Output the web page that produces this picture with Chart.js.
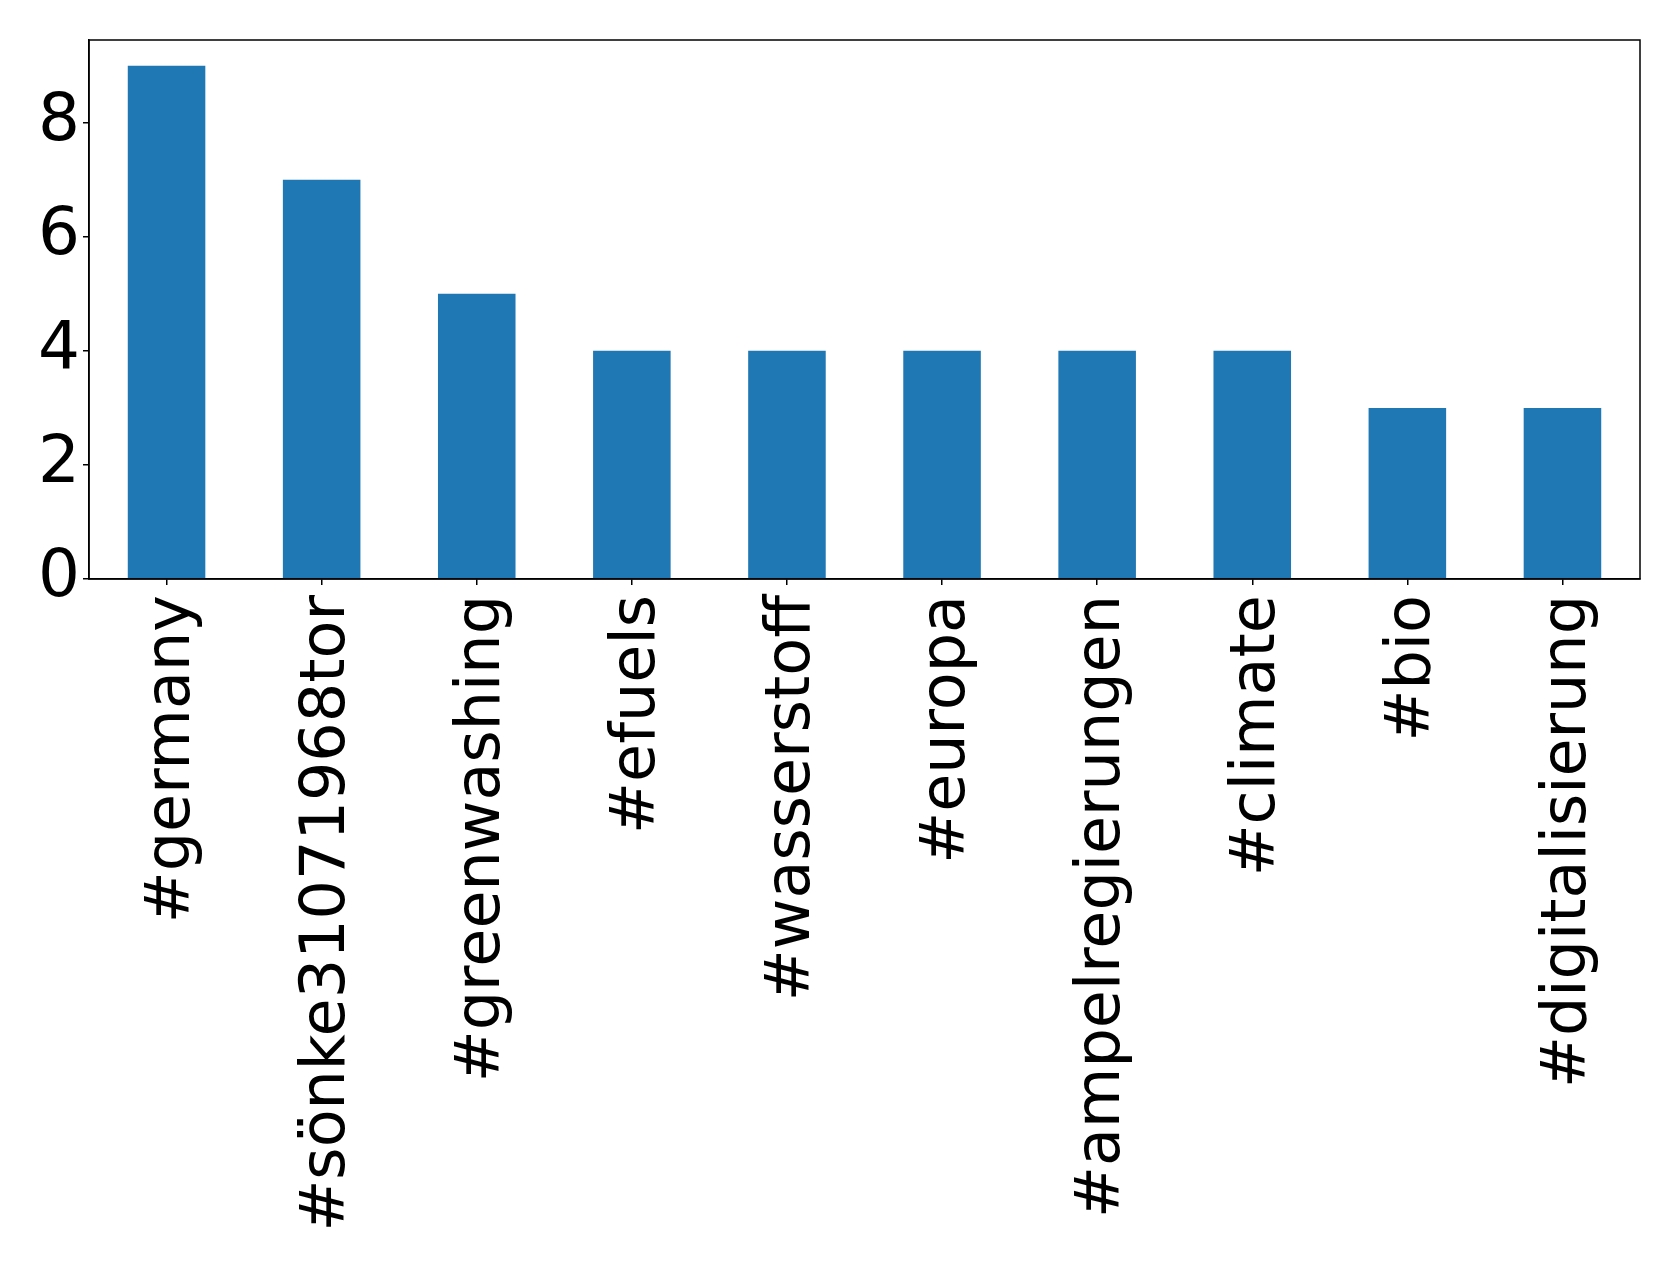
<!DOCTYPE html>
<html>
<head>
<meta charset="utf-8">
<script src="https://cdn.jsdelivr.net/npm/chart.js@4"></script>
<style>
  html, body { margin: 0; padding: 0; background: #fff; }
</style>
</head>
<body>
<canvas id="grafico" width="1679" height="1270"></canvas>
<script>
const hashtags = ['#germany', '#sönke31071968tor', '#greenwashing', '#efuels', '#wasserstoff',
  '#europa', '#ampelregierungen', '#climate', '#bio', '#digitalisierung'];
const anzahl = [9, 7, 5, 4, 4, 4, 4, 4, 3, 3];
const yTicks = [0, 2, 4, 6, 8];

// Rahmen um die Zeichenfläche (wie matplotlib)
const rahmen = {
  id: 'rahmen',
  afterDraw(chart) {
    const { ctx, chartArea: a } = chart;
    ctx.save();
    ctx.strokeStyle = '#000';
    ctx.lineWidth = 1.5;
    ctx.strokeRect(a.left, a.top, a.right - a.left, a.bottom - a.top);
    ctx.restore();
  }
};

const ctx = document.getElementById('grafico').getContext('2d');
new Chart(ctx, {
  type: 'bar',
  data: {
    labels: hashtags,
    datasets: [{
      data: anzahl,
      backgroundColor: '#1f77b4',
      barPercentage: 0.5,
      categoryPercentage: 1.0
    }]
  },
  options: {
    responsive: false,
    devicePixelRatio: 1,
    animation: false,
    layout: { padding: { top: 40, right: 39, left: 0, bottom: 0 } },
    plugins: { legend: { display: false }, tooltip: { enabled: false } },
    scales: {
      x: {
        offset: true,
        grid: { display: true, offset: false, drawOnChartArea: false, tickLength: 6, color: '#000', lineWidth: 1.5 },
        border: { display: true, color: '#000', width: 1.5 },
        ticks: {
          color: '#000',
          font: { family: 'DejaVu Sans', size: 62 },
          minRotation: 90,
          maxRotation: 90,
          autoSkip: false,
          padding: 10,
          labelOffset: 6
        },
        afterFit(scale) {
          scale.height = 1270 - 579;
          scale.paddingLeft = 0;
          scale.paddingRight = 0;
        }
      },
      y: {
        min: 0,
        max: 9.45,
        afterBuildTicks(scale) { scale.ticks = yTicks.map(v => ({ value: v })); },
        grid: { display: true, drawOnChartArea: false, tickLength: 6, color: '#000', lineWidth: 1.5 },
        border: { display: true, color: '#000', width: 1.5 },
        ticks: {
          color: '#000',
          font: { family: 'DejaVu Sans', size: 66 },
          padding: 3
        },
        afterFit(scale) {
          scale.width = 89;
          scale.paddingTop = 0;
          scale.paddingBottom = 0;
        }
      }
    }
  },
  plugins: [rahmen]
});
</script>
</body>
</html>
